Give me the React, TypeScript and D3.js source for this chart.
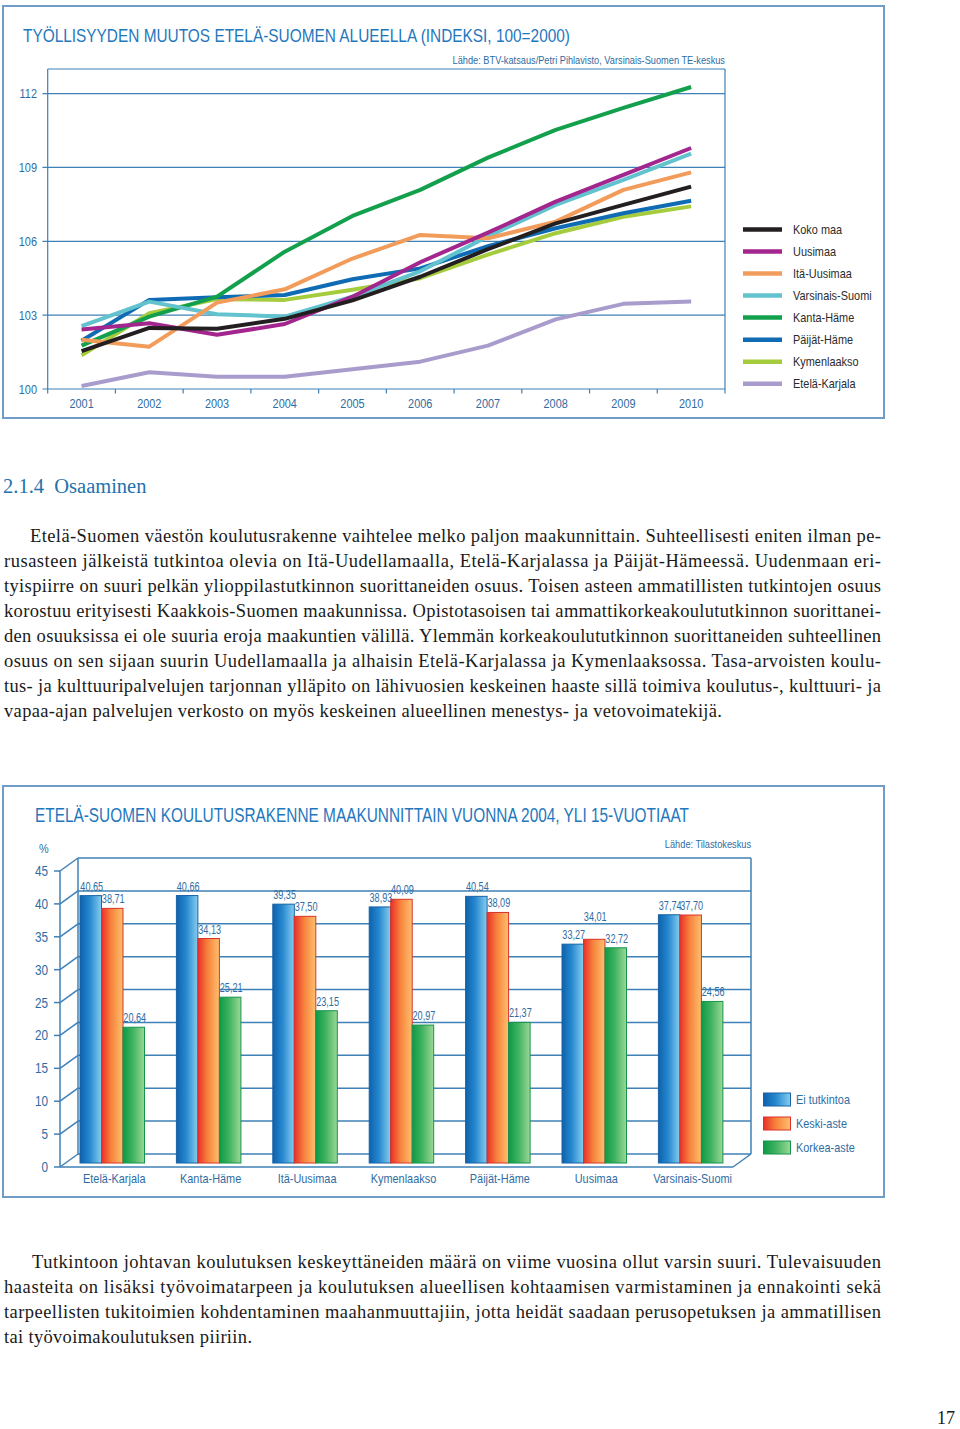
import React from 'react';
import * as d3 from 'd3';

// ---------- Line chart data ----------
const YEARS = ['2001', '2002', '2003', '2004', '2005', '2006', '2007', '2008', '2009', '2010'];
const SERIES_NAMES = ['Koko maa', 'Uusimaa', 'Itä-Uusimaa', 'Varsinais-Suomi', 'Kanta-Häme', 'Päijät-Häme', 'Kymenlaakso', 'Etelä-Karjala'];
const SERIES_COLORS = ['#231f20', '#a3268f', '#f29c5c', '#62c3cf', '#13a04d', '#0f6bb3', '#a5cc3c', '#a99ccd'];
const KOKO_MAA = [101.54, 102.48, 102.45, 102.85, 103.6, 104.56, 105.68, 106.73, 107.48, 108.22];
const UUSIMAA = [102.42, 102.67, 102.2, 102.64, 103.75, 105.15, 106.35, 107.61, 108.7, 109.79];
const ITA_UUSIMAA = [102.0, 101.72, 103.51, 104.05, 105.3, 106.26, 106.12, 106.8, 108.09, 108.8];
const VARSINAIS_SUOMI = [102.55, 103.55, 103.04, 102.94, 103.75, 104.78, 106.2, 107.48, 108.5, 109.56];
const KANTA_HAME = [101.76, 102.94, 103.75, 105.58, 107.03, 108.09, 109.4, 110.53, 111.42, 112.27];
const PAIJAT_HAME = [101.96, 103.62, 103.73, 103.82, 104.46, 104.9, 105.8, 106.53, 107.14, 107.65];
const KYMENLAAKSO = [101.37, 103.08, 103.65, 103.62, 104.03, 104.5, 105.46, 106.33, 107.0, 107.42];
const ETELA_KARJALA = [100.12, 100.68, 100.5, 100.5, 100.8, 101.11, 101.76, 102.83, 103.46, 103.55];
const SERIES_VALUES = [KOKO_MAA, UUSIMAA, ITA_UUSIMAA, VARSINAIS_SUOMI, KANTA_HAME, PAIJAT_HAME, KYMENLAAKSO, ETELA_KARJALA];
const LINE_Y_TICKS = [100, 103, 106, 109, 112];

// ---------- Bar chart data ----------
const CATEGORIES = ['Etelä-Karjala', 'Kanta-Häme', 'Itä-Uusimaa', 'Kymenlaakso', 'Päijät-Häme', 'Uusimaa', 'Varsinais-Suomi'];
const BAR_SERIES = ['Ei tutkintoa', 'Keski-aste', 'Korkea-aste'];
const EI_TUTKINTOA = [40.65, 40.66, 39.35, 38.93, 40.54, 33.27, 37.74];
const KESKI_ASTE = [38.71, 34.13, 37.5, 40.09, 38.09, 34.01, 37.7];
const KORKEA_ASTE = [20.64, 25.21, 23.15, 20.97, 21.37, 32.72, 24.56];
const BAR_VALUES = [EI_TUTKINTOA, KESKI_ASTE, KORKEA_ASTE];
const BAR_TICKS = [0, 5, 10, 15, 20, 25, 30, 35, 40, 45];

// ---------- Text ----------
const PARA1 = [
  'Etelä-Suomen väestön koulutusrakenne vaihtelee melko paljon maakunnittain. Suhteellisesti eniten ilman pe-',
  'rusasteen jälkeistä tutkintoa olevia on Itä-Uudellamaalla, Etelä-Karjalassa ja Päijät-Hämeessä. Uudenmaan eri-',
  'tyispiirre on suuri pelkän ylioppilastutkinnon suorittaneiden osuus. Toisen asteen ammatillisten tutkintojen osuus',
  'korostuu erityisesti Kaakkois-Suomen maakunnissa. Opistotasoisen tai ammattikorkeakoulututkinnon suorittanei-',
  'den osuuksissa ei ole suuria eroja maakuntien välillä. Ylemmän korkeakoulututkinnon suorittaneiden suhteellinen',
  'osuus on sen sijaan suurin Uudellamaalla ja alhaisin Etelä-Karjalassa ja Kymenlaaksossa. Tasa-arvoisten koulu-',
  'tus- ja kulttuuripalvelujen tarjonnan ylläpito on lähivuosien keskeinen haaste sillä toimiva koulutus-, kulttuuri- ja',
  'vapaa-ajan palvelujen verkosto on myös keskeinen alueellinen menestys- ja vetovoimatekijä.',
];
const PARA2 = [
  'Tutkintoon johtavan koulutuksen keskeyttäneiden määrä on viime vuosina ollut varsin suuri. Tulevaisuuden',
  'haasteita on lisäksi työvoimatarpeen ja koulutuksen alueellisen kohtaamisen varmistaminen ja ennakointi sekä',
  'tarpeellisten tukitoimien kohdentaminen maahanmuuttajiin, jotta heidät saadaan perusopetuksen ja ammatillisen',
  'tai työvoimakoulutuksen piiriin.',
];

const SANS = "'Liberation Sans', Arial, sans-serif";
const SERIF = "'Liberation Serif', 'Times New Roman', serif";
const FRAME = '#6f9dc8';
const GRID = '#3f80b6';
const AXIS_TEXT = '#2f6ca2';
const TITLE = '#1f77bd';
const SQUEEZE = 0.84;

const fmt = (v: number) => d3.format('.2f')(v).replace('.', ',');

function NText({
  x,
  y,
  size,
  fill,
  anchor = 'start',
  squeeze = SQUEEZE,
  children,
}: {
  x: number;
  y: number;
  size: number;
  fill: string;
  anchor?: 'start' | 'middle' | 'end';
  squeeze?: number;
  children: React.ReactNode;
}) {
  return (
    <text transform={`translate(${x},${y}) scale(${squeeze},1)`} textAnchor={anchor} fontFamily={SANS} fontSize={size} fill={fill}>
      {children}
    </text>
  );
}

function LineChart() {
  const x = d3.scaleBand<string>().domain(YEARS).range([47.7, 725]);
  const y = d3.scaleLinear().domain([100, 113]).range([389, 69]);
  const line = d3
    .line<number>()
    .x((_, i) => (x(YEARS[i]) as number) + x.bandwidth() / 2)
    .y((d) => y(d));
  const order = d3.range(SERIES_NAMES.length).reverse();
  const boundaries = d3.range(YEARS.length + 1).map((i) => 47.7 + i * x.step());
  const legendY = d3.scalePoint<string>().domain(SERIES_NAMES).range([229.5, 383.7]);
  return (
    <g>
      <rect x={3} y={6} width={881} height={412} fill="none" stroke={FRAME} strokeWidth={2} />
      <text x={23} y={42} fontFamily={SANS} fontSize={19} fill={TITLE} textLength={547} lengthAdjust="spacingAndGlyphs">
        TYÖLLISYYDEN MUUTOS ETELÄ-SUOMEN ALUEELLA (INDEKSI, 100=2000)
      </text>
      <NText x={725} y={64} anchor="end" size={11} fill={AXIS_TEXT}>
        Lähde: BTV-katsaus/Petri Pihlavisto, Varsinais-Suomen TE-keskus
      </NText>
      {LINE_Y_TICKS.map((t) => (
        <g key={t}>
          <line x1={42.5} x2={725} y1={y(t)} y2={y(t)} stroke={GRID} strokeWidth={1.2} />
          <NText x={37} y={y(t) + 4.5} anchor="end" size={13} fill={AXIS_TEXT}>
            {t}
          </NText>
        </g>
      ))}
      <line x1={47.7} x2={725} y1={y(113)} y2={y(113)} stroke={GRID} strokeWidth={1.2} />
      <line x1={47.7} x2={47.7} y1={y(113)} y2={y(100)} stroke={GRID} strokeWidth={1.2} />
      <line x1={725} x2={725} y1={y(113)} y2={y(100)} stroke={GRID} strokeWidth={1.2} />
      {boundaries.map((bx, i) => (
        <line key={i} x1={bx} x2={bx} y1={y(100)} y2={y(100) + 4.5} stroke={GRID} strokeWidth={1.2} />
      ))}
      {YEARS.map((yr) => (
        <NText key={yr} x={(x(yr) as number) + x.bandwidth() / 2} y={408} anchor="middle" size={13} fill={AXIS_TEXT}>
          {yr}
        </NText>
      ))}
      {order.map((i) => (
        <path key={SERIES_NAMES[i]} d={line(SERIES_VALUES[i]) || ''} fill="none" stroke={SERIES_COLORS[i]} strokeWidth={4} strokeLinejoin="round" strokeLinecap="butt" />
      ))}
      {SERIES_NAMES.map((n, i) => {
        const ly = legendY(n) as number;
        return (
          <g key={n}>
            <line x1={743} x2={782} y1={ly} y2={ly} stroke={SERIES_COLORS[i]} strokeWidth={4.5} />
            <NText x={793} y={ly + 4.5} size={13} fill="#2b2b2b">
              {n}
            </NText>
          </g>
        );
      })}
    </g>
  );
}

function BarChart() {
  const dx = 18;
  const dy = 13;
  const yFront = d3.scaleLinear().domain([0, 45]).range([1167, 871]);
  const yBack = (v: number) => yFront(v) - dy;
  const yBar = (v: number) => yFront(v) - 4;
  const x0 = d3.scaleBand<string>().domain(CATEGORIES).range([80, 80 + 6 * 96.4 + 64.5]).paddingInner(0.331).paddingOuter(0);
  const x1 = d3.scaleBand<string>().domain(BAR_SERIES).range([0, x0.bandwidth()]);
  const grads = ['gBlue', 'gOrange', 'gGreen'];
  const strokes = ['#1a62a6', '#d9322a', '#17944c'];
  const frontLeft = 60;
  const frontRight = 733;
  const legendY = d3.scalePoint<string>().domain(BAR_SERIES).range([1093, 1141]);

  // label lift: middle bar tallest and close to both neighbours -> move its label up
  const lift = (ci: number, si: number) => {
    if (si !== 1) return 0;
    const a = BAR_VALUES[0][ci];
    const b = BAR_VALUES[1][ci];
    const c = BAR_VALUES[2][ci];
    return b > a && b > c && b - a < 1.5 && b - c < 1.5 ? 13 : 0;
  };

  return (
    <g>
      <defs>
        <linearGradient id="gBlue" x1="0" x2="1" y1="0" y2="0">
          <stop offset="0" stopColor="#0d62ac" />
          <stop offset="0.45" stopColor="#2688cf" />
          <stop offset="1" stopColor="#86cdf0" />
        </linearGradient>
        <linearGradient id="gOrange" x1="0" x2="1" y1="0" y2="0">
          <stop offset="0" stopColor="#e8302a" />
          <stop offset="0.45" stopColor="#f7823c" />
          <stop offset="1" stopColor="#fdc06d" />
        </linearGradient>
        <linearGradient id="gGreen" x1="0" x2="1" y1="0" y2="0">
          <stop offset="0" stopColor="#0c9a48" />
          <stop offset="0.45" stopColor="#3fb25f" />
          <stop offset="1" stopColor="#9bd896" />
        </linearGradient>
      </defs>
      <rect x={3} y={786} width={881} height={411} fill="none" stroke={FRAME} strokeWidth={2} />
      <text x={35} y={822} fontFamily={SANS} fontSize={20} fill={TITLE} textLength={654} lengthAdjust="spacingAndGlyphs">
        ETELÄ-SUOMEN KOULUTUSRAKENNE MAAKUNNITTAIN VUONNA 2004, YLI 15-VUOTIAAT
      </text>
      <NText x={751} y={848} anchor="end" size={11} fill={AXIS_TEXT}>
        Lähde: Tilastokeskus
      </NText>
      <NText x={39} y={853} size={13} fill={AXIS_TEXT}>
        %
      </NText>
      {BAR_TICKS.map((t) => (
        <g key={t}>
          <line x1={frontLeft + dx} x2={frontRight + dx} y1={yBack(t)} y2={yBack(t)} stroke={GRID} strokeWidth={1.5} />
          <line x1={frontLeft} x2={frontLeft + dx} y1={yFront(t)} y2={yBack(t)} stroke={GRID} strokeWidth={1.5} />
          <line x1={frontLeft - 6} x2={frontLeft} y1={yFront(t)} y2={yFront(t)} stroke={GRID} strokeWidth={1.5} />
          <NText x={48} y={yFront(t) + 5} anchor="end" size={14} fill={AXIS_TEXT}>
            {t}
          </NText>
        </g>
      ))}
      <line x1={frontLeft + dx} x2={frontLeft + dx} y1={yBack(45)} y2={yBack(0)} stroke={GRID} strokeWidth={1.5} />
      <line x1={frontRight + dx} x2={frontRight + dx} y1={yBack(45)} y2={yBack(0)} stroke={GRID} strokeWidth={1.5} />
      <line x1={frontLeft} x2={frontLeft} y1={yFront(45)} y2={yFront(0)} stroke={GRID} strokeWidth={1.5} />
      {CATEGORIES.map((c, ci) => (
        <g key={c}>
          {BAR_SERIES.map((s, si) => {
            const v = BAR_VALUES[si][ci];
            const bx = (x0(c) as number) + (x1(s) as number);
            return (
              <rect key={s} x={bx} y={yBar(v)} width={x1.bandwidth()} height={yBar(0) - yBar(v)} fill={`url(#${grads[si]})`} stroke={strokes[si]} strokeWidth={1} />
            );
          })}
        </g>
      ))}
      {CATEGORIES.map((c, ci) => (
        <g key={c + 'l'}>
          {BAR_SERIES.map((s, si) => {
            const v = BAR_VALUES[si][ci];
            const bx = (x0(c) as number) + (x1(s) as number);
            return (
              <NText key={s} x={bx + x1.bandwidth() / 2 + 1} y={yBar(v) - 5 - lift(ci, si)} anchor="middle" size={12} squeeze={0.76} fill={AXIS_TEXT}>
                {fmt(v)}
              </NText>
            );
          })}
          <NText x={(x0(c) as number) + x0.bandwidth() / 2 + 2} y={1183} anchor="middle" size={13} fill={AXIS_TEXT}>
            {c}
          </NText>
        </g>
      ))}
      <line x1={frontLeft} x2={frontRight} y1={yFront(0)} y2={yFront(0)} stroke={GRID} strokeWidth={1.5} />
      <line x1={frontRight} x2={frontRight + dx} y1={yFront(0)} y2={yBack(0)} stroke={GRID} strokeWidth={1.5} />
      {BAR_SERIES.map((s, si) => {
        const ly = legendY(s) as number;
        return (
          <g key={s}>
            <rect x={763.5} y={ly} width={27} height={13} fill={`url(#${grads[si]})`} stroke={strokes[si]} strokeWidth={1} />
            <NText x={796} y={ly + 11} size={13} fill={AXIS_TEXT}>
              {s}
            </NText>
          </g>
        );
      })}
    </g>
  );
}

function Paragraph({ lines, top, indent, lastWidth }: { lines: string[]; top: number; indent: number; lastWidth: number }) {
  return (
    <g>
      {lines.map((l, i) => {
        const x = i === 0 ? indent : 4;
        const last = i === lines.length - 1;
        const w = last ? lastWidth : 881 - x;
        return (
          <text key={i} x={x} y={top + i * 25} fontFamily={SERIF} fontSize={18.5} fill="#1a1a1a" textLength={w} lengthAdjust="spacing">
            {l}
          </text>
        );
      })}
    </g>
  );
}

export default function App() {
  return (
    <svg width={960} height={1429} style={{ position: 'absolute', left: 0, top: 0, background: '#fff' }}>
      <rect x={0} y={0} width={960} height={1429} fill="#fff" />
      <LineChart />
      <text x={3} y={493} fontFamily={SERIF} fontSize={20.5} fill="#2471ad" xmlSpace="preserve">
        2.1.4  Osaaminen
      </text>
      <Paragraph lines={PARA1} top={541.5} indent={30} lastWidth={718} />
      <BarChart />
      <Paragraph lines={PARA2} top={1268} indent={32} lastWidth={248} />
      <text x={955} y={1424} textAnchor="end" fontFamily={SERIF} fontSize={18} fill="#1a1a1a">
        17
      </text>
    </svg>
  );
}
